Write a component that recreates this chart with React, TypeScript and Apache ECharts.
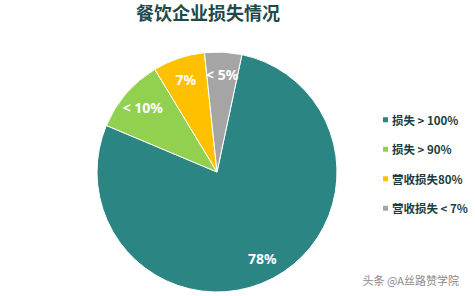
import React, { useEffect, useRef } from "react";
import * as echarts from "echarts";

const categories = ["损失 > 100%", "损失 > 90%", "营收损失80%", "营收损失 < 7%"];
const values = [78, 10, 7, 5];
const labels = ["78%", "< 10%", "7%", "< 5%"];
const colors = ["#2b8583", "#92d050", "#ffc000", "#a5a5a5"];

export default function App() {
  const ref = useRef<HTMLDivElement>(null);
  useEffect(() => {
    if (!ref.current) return;
    const chart = echarts.init(ref.current, null, { renderer: "svg" });
    const data = categories.map((name, i) => ({
      name,
      value: values[i],
      itemStyle: { color: colors[i] },
    }));
    chart.setOption({
      animation: false,
      backgroundColor: "#ffffff",
      title: {
        text: "餐饮企业损失情况",
        left: 208,
        top: 3,
        padding: 0,
        textAlign: "center",
        textStyle: {
          fontSize: 18,
          fontWeight: "bold",
          color: "#1d4a4b",
          fontFamily: "Noto Sans CJK SC",
        },
      },
      legend: {
        orient: "vertical",
        left: 381,
        top: 114,
        padding: 0,
        itemWidth: 7,
        itemHeight: 7,
        itemGap: 18,
        icon: "rect",
        data: categories,
        textStyle: {
          fontSize: 11.5,
          fontWeight: "bold",
          color: "#1b3d3e",
          fontFamily: "Noto Sans CJK SC",
          padding: [0, 0, 0, -2],
        },
      },
      graphic: [
        {
          type: "text",
          right: 16,
          top: 274,
          style: {
            text: "头条 @A丝路赞学院",
            fontSize: 11,
            fill: "#8a8a8a",
            fontFamily: "Noto Sans CJK SC",
          },
        },
      ],
      series: [
        {
          type: "pie",
          center: [217, 172],
          radius: [0, 120],
          startAngle: 78,
          clockwise: true,
          label: { show: false },
          labelLine: { show: false },
          itemStyle: { borderColor: "#ffffff", borderWidth: 1 },
          data,
        },
        {
          type: "pie",
          center: [217, 172],
          radius: [70, 120],
          startAngle: 78,
          clockwise: true,
          silent: true,
          labelLine: { show: false },
          itemStyle: { color: "transparent" },
          label: {
            show: true,
            position: "inside",
            formatter: (p: any) => labels[p.dataIndex],
            color: "#ffffff",
            fontSize: 14,
            fontWeight: "bold",
            fontFamily: "Noto Sans",
          },
          data: categories.map((name, i) => ({ name, value: values[i] })),
        },
      ],
    });
    return () => chart.dispose();
  }, []);
  return (
    <div
      ref={ref}
      style={{ position: "fixed", left: 0, top: 0, width: 475, height: 296 }}
    />
  );
}
